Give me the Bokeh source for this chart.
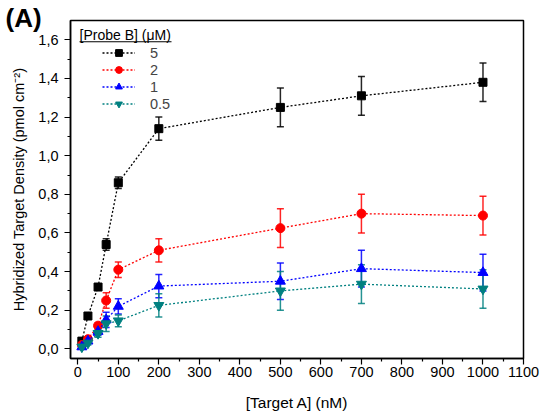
from bokeh.plotting import figure
from bokeh.models import (Whisker, ColumnDataSource, Legend, LegendItem, Label,
                          FixedTicker, CustomJSTickFormatter, Range1d, BoxAnnotation, TeeHead)
from bokeh.embed import file_html
from bokeh.resources import INLINE

# ---- data ----
target_nM = [10, 25, 50, 70, 100, 200, 500, 700, 1000]
probe_labels = ["5", "2", "1", "0.5"]

dens_5 = [0.04, 0.17, 0.32, 0.54, 0.86, 1.14, 1.25, 1.31, 1.38]
err_5 = [0.01, 0.015, 0.015, 0.03, 0.03, 0.06, 0.10, 0.10, 0.10]

dens_2 = [0.02, 0.05, 0.12, 0.25, 0.41, 0.51, 0.625, 0.70, 0.69]
err_2 = [0.01, 0.01, 0.015, 0.04, 0.04, 0.06, 0.10, 0.10, 0.10]

dens_1 = [0.01, 0.04, 0.09, 0.15, 0.22, 0.325, 0.35, 0.415, 0.395]
err_1 = [0.01, 0.01, 0.02, 0.04, 0.04, 0.06, 0.095, 0.095, 0.095]

dens_05 = [0.01, 0.03, 0.08, 0.13, 0.145, 0.225, 0.30, 0.335, 0.31]
err_05 = [0.01, 0.01, 0.02, 0.04, 0.03, 0.06, 0.10, 0.10, 0.10]

x_ticks = [0, 100, 200, 300, 400, 500, 600, 700, 800, 900, 1000, 1100]
x_minor = [50, 150, 250, 350, 450, 550, 650, 750, 850, 950, 1050]
y_ticks = [0.0, 0.2, 0.4, 0.6, 0.8, 1.0, 1.2, 1.4, 1.6]
y_minor = [0.1, 0.3, 0.5, 0.7, 0.9, 1.1, 1.3, 1.5]

series = [
    (dens_5, err_5, "black", "square", 8),
    (dens_2, err_2, "#ff0000", "circle", 9),
    (dens_1, err_1, "#0000ff", "triangle", 10),
    (dens_05, err_05, "#008080", "inverted_triangle", 10),
]

FONT = "Liberation Sans"

p = figure(width=543, height=420, x_range=Range1d(-18, 1100), y_range=Range1d(-0.05, 1.70),
           output_backend="svg", toolbar_location=None,
           min_border_left=70, min_border_right=20, min_border_top=20, min_border_bottom=62)
p.grid.visible = False
p.outline_line_color = "black"
p.outline_line_width = 1.5
p.background_fill_color = "white"
p.border_fill_color = "white"

p.title.text = "(A)"
p.title.align = "left"
p.title.offset = -65
p.title.standoff = -24
p.title.text_font = FONT
p.title.text_font_size = "26px"
p.title.text_font_style = "bold"
p.title.text_color = "black"

for ax in (p.xaxis[0], p.yaxis[0]):
    ax.axis_line_width = 1.5
    ax.axis_line_color = "black"
    ax.major_tick_line_color = "black"
    ax.minor_tick_line_color = "black"
    ax.major_tick_line_width = 1.2
    ax.minor_tick_line_width = 1.2
    ax.major_tick_out = 6
    ax.major_tick_in = 0
    ax.minor_tick_out = 3
    ax.minor_tick_in = 0
    ax.major_label_text_font = FONT
    ax.major_label_text_font_size = "14.5px"
    ax.major_label_text_color = "black"
    ax.axis_label_text_font = FONT
    ax.axis_label_text_font_style = "normal"
    ax.axis_label_text_color = "black"

p.xaxis.ticker = FixedTicker(ticks=x_ticks, minor_ticks=x_minor)
p.yaxis.ticker = FixedTicker(ticks=y_ticks, minor_ticks=y_minor)
p.yaxis.formatter = CustomJSTickFormatter(code="return tick.toFixed(1).replace('.', ',');")
p.xaxis.axis_label = "[Target A] (nM)"
p.yaxis.axis_label = "Hybridized Target Density (pmol cm\u207b\u00b2)"
p.xaxis.axis_label_text_font_size = "15.5px"
p.yaxis.axis_label_text_font_size = "14.5px"
p.xaxis.major_label_standoff = 2
p.yaxis.major_label_standoff = 6
p.xaxis.axis_label_standoff = 14
p.yaxis.axis_label_standoff = 8

items = []
for (vals, errs, color, marker, size), lbl in zip(series, probe_labels):
    src = ColumnDataSource(dict(x=target_nM, y=vals,
                                upper=[v + e for v, e in zip(vals, errs)],
                                lower=[v - e for v, e in zip(vals, errs)]))
    lr = p.line("x", "y", source=src, line_color=color, line_dash="2 2", line_width=1.3)
    wh = Whisker(source=src, base="x", upper="upper", lower="lower",
                 line_color=color, line_width=1.5, line_alpha=0.85,
                 upper_head=TeeHead(size=7, line_color=color, line_width=1.5, line_alpha=0.85),
                 lower_head=TeeHead(size=7, line_color=color, line_width=1.5, line_alpha=0.85))
    p.add_layout(wh)
    sr = p.scatter("x", "y", source=src, marker=marker, size=size, fill_color=color,
                   line_color=color, line_width=1)
    items.append(LegendItem(label=lbl, renderers=[lr, sr]))

legend = Legend(items=items, location=(32, 246), padding=0, margin=0, spacing=0,
                glyph_width=33, glyph_height=17, label_height=17, label_standoff=15,
                border_line_alpha=0, background_fill_alpha=0,
                label_text_font=FONT, label_text_font_size="14.5px")
p.add_layout(legend)

p.add_layout(Label(x=9, y=323.7, x_units="screen", y_units="screen", text="[Probe B] (\u03bcM)",
                   text_baseline="middle", text_align="left", text_font=FONT,
                   text_font_size="14px", text_color="black"))
p.add_layout(BoxAnnotation(left=9, right=101, bottom=316.2, top=317.2,
                           left_units="screen", right_units="screen",
                           bottom_units="screen", top_units="screen",
                           fill_color="black", fill_alpha=1, line_alpha=0))

open("out.html", "w").write(file_html(p, INLINE))
